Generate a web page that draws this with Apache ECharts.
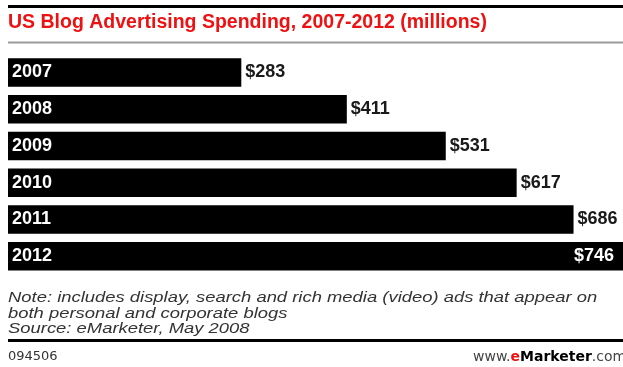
<!DOCTYPE html>
<html>
<head>
<meta charset="utf-8">
<script src="https://cdn.jsdelivr.net/npm/echarts@6/dist/echarts.min.js"></script>
<style>
  html, body { margin: 0; padding: 0; background: #fff; }
  #chart { width: 623px; height: 367px; }
</style>
</head>
<body>
<div id="chart"></div>
<script>
// Yearly US blog advertising spending, in millions of dollars
const years = ['2007', '2008', '2009', '2010', '2011', '2012'];
const spending = [283, 411, 531, 617, 686, 746];

const titleText = 'US Blog Advertising Spending, 2007-2012 (millions)';
const noteLines = [
  'Note: includes display, search and rich media (video) ads that appear on',
  'both personal and corporate blogs',
  'Source: eMarketer, May 2008'
];
const chartId = '094506';

const chart = echarts.init(document.getElementById('chart'), null, { renderer: 'canvas' });

const lastIndex = spending.length - 1;
const barData = spending.map((v, i) => {
  if (i === lastIndex) {
    // the longest bar carries its value inside, in white
    return {
      value: v,
      label: { position: 'insideRight', distance: 9, color: '#ffffff' }
    };
  }
  return v;
});

chart.setOption({
  backgroundColor: '#ffffff',
  animation: false,
  grid: { left: 8, top: 54, width: 620.5, height: 220.6, containLabel: false },
  xAxis: {
    type: 'value',
    min: 0,
    max: 746,
    show: false
  },
  yAxis: {
    type: 'category',
    data: years,
    inverse: true,
    z: 10,
    axisLine: { show: false },
    axisTick: { show: false },
    splitLine: { show: false },
    axisLabel: {
      inside: true,
      margin: 4,
      color: '#ffffff',
      fontFamily: 'Liberation Sans, Arial, sans-serif',
      fontWeight: 'bold',
      fontSize: 18
    }
  },
  series: [{
    type: 'bar',
    data: barData,
    barWidth: 28.5,
    itemStyle: { color: '#000000' },
    label: {
      show: true,
      position: 'right',
      distance: 4,
      color: '#1a1a1a',
      fontFamily: 'Liberation Sans, Arial, sans-serif',
      fontWeight: 'bold',
      fontSize: 18,
      formatter: p => '$' + p.value
    }
  }],
  graphic: [
    // top heavy rule
    { type: 'rect', shape: { x: 8, y: 5, width: 620, height: 3 }, style: { fill: '#000' } },
    {
      type: 'text', x: 8, y: 22.2,
      style: {
        text: titleText, fill: '#ee1111',
        font: 'bold 19.5px "Liberation Sans", Arial, sans-serif',
        textVerticalAlign: 'middle'
      }
    },
    // thin grey rule under the title
    { type: 'rect', shape: { x: 8, y: 41.5, width: 620, height: 2 }, style: { fill: '#9a9a9a' } },
    {
      // footnote set in a wide italic face
      type: 'text', x: 8, y: 290.5, scaleX: 1.27,
      style: {
        text: noteLines.join('\n'), fill: '#333333', lineHeight: 15.5,
        font: 'italic 14.5px "Liberation Sans", Arial, sans-serif',
        textVerticalAlign: 'top'
      }
    },
    // bottom heavy rule
    { type: 'rect', shape: { x: 8, y: 339, width: 620, height: 3 }, style: { fill: '#000' } },
    {
      type: 'text', x: 8, y: 356.5,
      style: {
        text: chartId, fill: '#333333',
        font: '13px "DejaVu Sans", sans-serif',
        textVerticalAlign: 'middle'
      }
    },
    {
      type: 'text', x: 473, y: 357,
      style: {
        text: '{g|www.}{r|e}{b|Marketer}{g|.com}',
        textVerticalAlign: 'middle',
        rich: {
          g: { fill: '#444444', font: '14px "DejaVu Sans", sans-serif' },
          r: { fill: '#ee1111', font: 'bold 14px "DejaVu Sans", sans-serif' },
          b: { fill: '#000000', font: 'bold 14px "DejaVu Sans", sans-serif' }
        }
      }
    }
  ]
});
</script>
</body>
</html>
